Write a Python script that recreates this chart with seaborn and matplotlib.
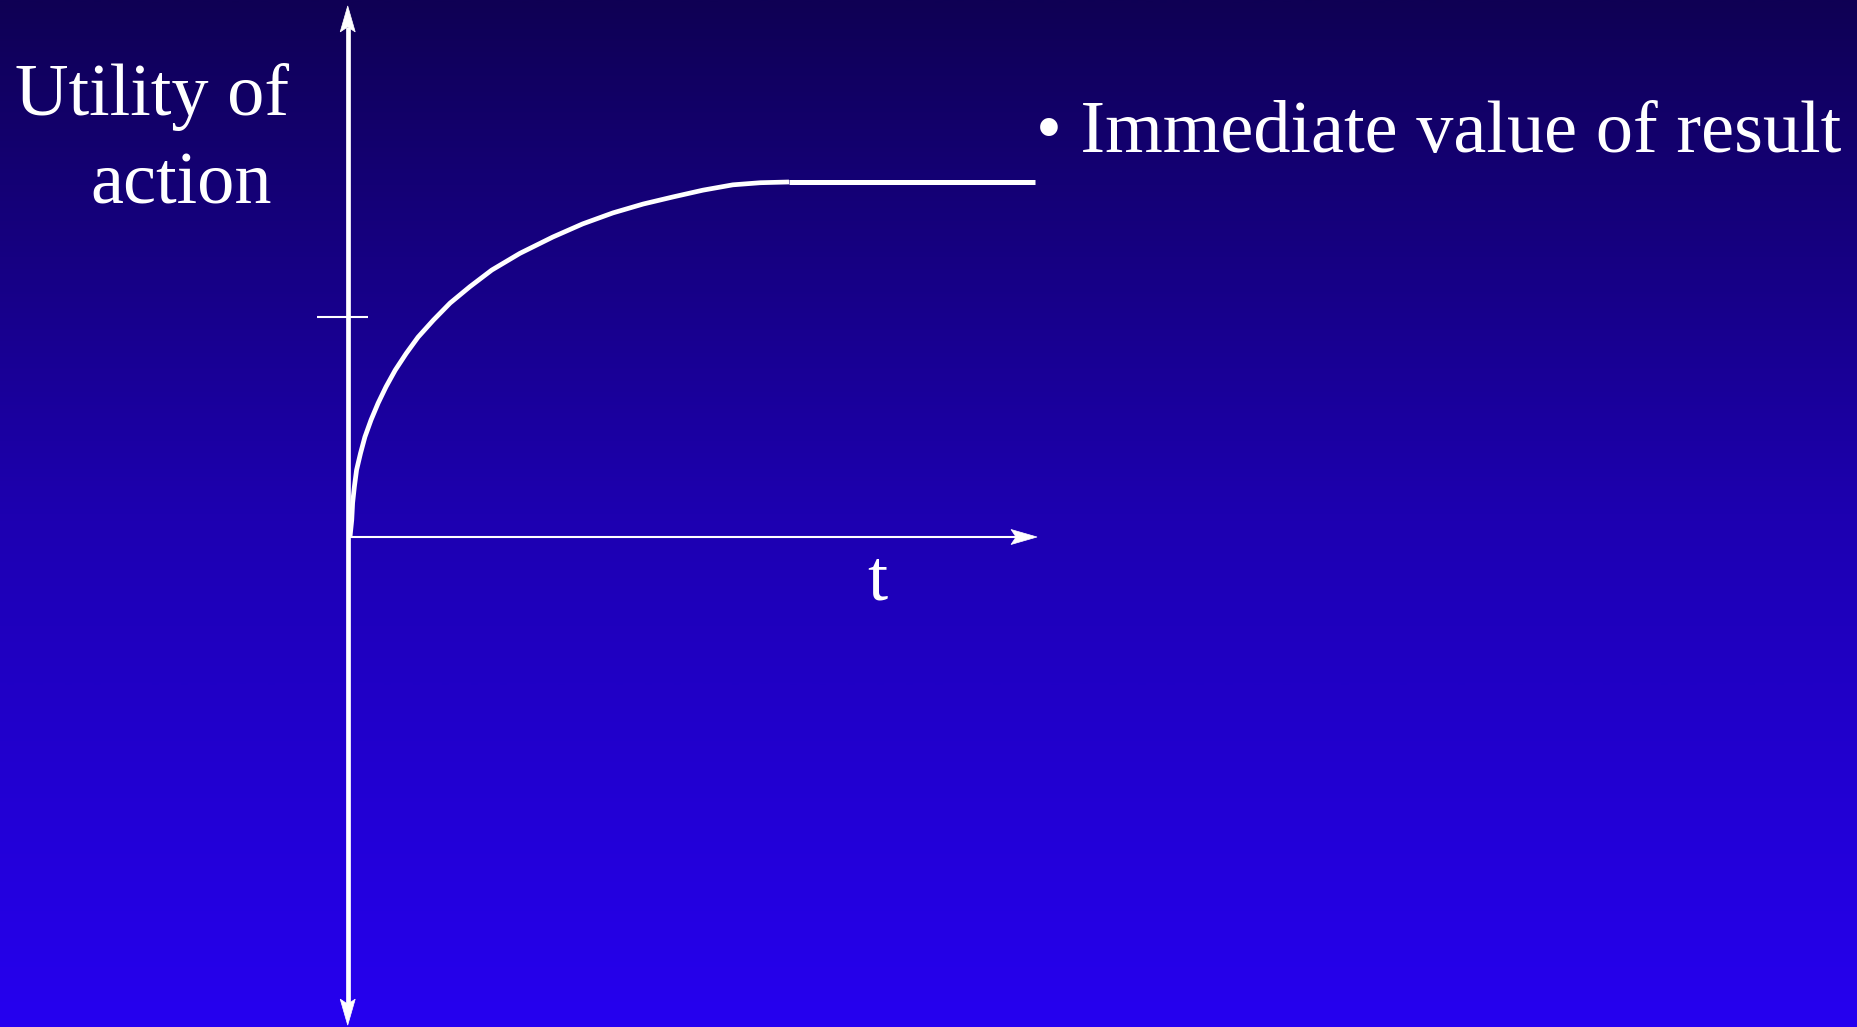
import numpy as np
import matplotlib
matplotlib.use("Agg")
import matplotlib.pyplot as plt
import seaborn as sns
from matplotlib.colors import LinearSegmentedColormap
from matplotlib.patches import Polygon

# Utility of an action over time: rises quickly, then levels off
t_curve = [0.0, 0.004, 0.006, 0.010, 0.015, 0.024, 0.034, 0.048, 0.064, 0.082,
           0.103, 0.128, 0.155, 0.190, 0.228, 0.273, 0.323, 0.387, 0.462, 0.530,
           0.599, 0.668, 0.736, 0.804, 0.872, 0.935, 1.0]
u_curve = [0.0, 0.048, 0.096, 0.142, 0.189, 0.236, 0.282, 0.330, 0.377, 0.423,
           0.470, 0.517, 0.563, 0.611, 0.659, 0.705, 0.752, 0.799, 0.845, 0.882,
           0.913, 0.938, 0.958, 0.977, 0.992, 0.998, 1.0]
t_flat = [1.0, 1.56]
u_flat = [1.0, 1.0]

tick_u = 0.62
t_axis_end = 1.565
u_axis_top = 1.496
u_axis_bottom = -1.375

y_label_lines = ["Utility of", "action"]
x_label = "t"
bullet_text = "\u2022 Immediate value of result"

W, H = 1857, 1027
sns.set_theme(style="white")
plt.rcParams["font.family"] = ["Liberation Serif", "DejaVu Serif"]

fig = plt.figure(figsize=(W / 100, H / 100), dpi=100)
ax = fig.add_axes([0, 0, 1, 1])

# data units: t = (px - 350) / 439, u = (537 - py) / 355
x0, xs = 350, 439
y0, ys = 537, 355
xlim = ((0 - x0) / xs, (W - x0) / xs)
ylim = ((y0 - H) / ys, (y0 - 0) / ys)
ax.set_xlim(*xlim)
ax.set_ylim(*ylim)
ax.axis("off")

# vertical gradient background, dark at the top
cmap = LinearSegmentedColormap.from_list(
    "bg", [(0.0, (15/255, 0, 84/255)), (0.5, (29/255, 0, 176/255)), (1.0, (38/255, 0, 240/255))])
grad = np.linspace(0, 1, 512).reshape(-1, 1)
ax.imshow(grad, cmap=cmap, aspect="auto", extent=[xlim[0], xlim[1], ylim[0], ylim[1]],
          origin="upper", zorder=0, interpolation="bilinear")

white = "white"


def arrow_head(tip_t, tip_u, direction, length=26, half=7.5, notch=5):
    """Stealth-style arrow head; sizes in pixels, position in data units."""
    dx, dy = direction  # pixel direction (x right, y up)
    px, py = -dy, dx
    pts_px = [(0, 0),
              (-dx * length + px * half, -dy * length + py * half),
              (-dx * (length - notch), -dy * (length - notch)),
              (-dx * length - px * half, -dy * length - py * half)]
    pts = [(tip_t + a / xs, tip_u + b / ys) for a, b in pts_px]
    ax.add_patch(Polygon(pts, closed=True, facecolor=white, edgecolor=white,
                         lw=0.5, zorder=5))
    return (tip_t - dx * (length - notch) / xs, tip_u - dy * (length - notch) / ys)


# vertical axis, arrows at both ends
vx = -0.0052
top_base = arrow_head(vx, u_axis_top, (0, 1))
bot_base = arrow_head(vx, u_axis_bottom, (0, -1))
ax.plot([vx, vx], [bot_base[1], top_base[1]], color=white, lw=3.4, zorder=3,
        solid_capstyle="butt")

# horizontal axis
right_base = arrow_head(t_axis_end, 0.0, (1, 0))
ax.plot([0.0, right_base[0]], [0.0, 0.0], color=white, lw=1.5, zorder=3,
        solid_capstyle="butt")

# tick mark on the utility axis
ax.plot([-0.075, 0.041], [tick_u, tick_u], color=white, lw=1.5, zorder=3,
        solid_capstyle="butt")

# the utility curve and its plateau
sns.lineplot(x=t_curve, y=u_curve, sort=False, color=white, lw=3.4, ax=ax, zorder=4)
sns.lineplot(x=t_flat, y=u_flat, sort=False, color=white, lw=3.6, ax=ax, zorder=4)
for line in ax.lines[-2:]:
    line.set_solid_capstyle("butt")
    line.set_solid_joinstyle("round")
ax.set_xlim(*xlim)
ax.set_ylim(*ylim)


def ftext(px, py, s, **kw):
    fig.text(px / W, 1 - py / H, s, color=white, va="baseline", **kw)


ftext(15, 115, y_label_lines[0], fontsize=53.5, ha="left")
ftext(90, 203, y_label_lines[1], fontsize=53.5, ha="left")
ftext(877, 600, x_label, fontsize=52, ha="center")
ftext(1036, 152, bullet_text, fontsize=53.5, ha="left")

fig.savefig("out.png", dpi=100)
